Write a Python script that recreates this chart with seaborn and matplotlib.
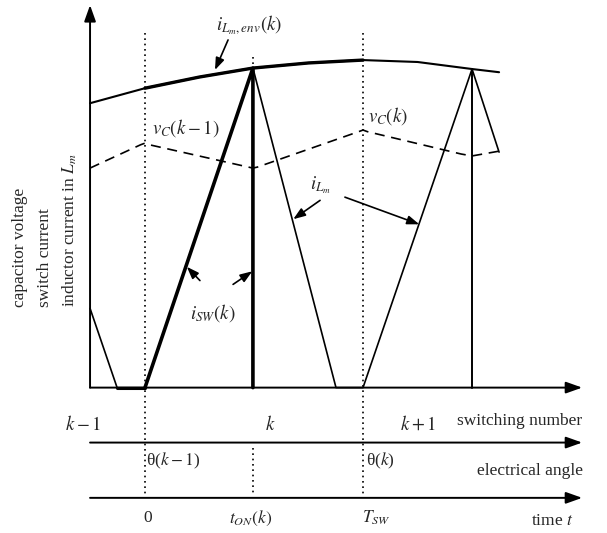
import matplotlib
matplotlib.use("Agg")
import matplotlib.pyplot as plt
import seaborn as sns
import numpy as np

# ---- data (time in units of T_SW, current normalised to peak) ----
t_ilm = [-0.252, -0.128, 0.0, 0.495, 0.876, 1.0, 1.5, 1.624]
i_lm = [0.248, 0.0, 0.0, 1.0, 0.0, 0.0, 0.997, 0.737]

t_isw = [0.0, 0.495, 0.495]
i_sw = [0.0, 1.0, 0.0]

t_isw_next = [1.5, 1.5]
i_sw_next = [0.997, 0.0]

t_env = [-0.252, 0.0, 0.25, 0.495, 0.75, 1.0, 1.25, 1.5, 1.624]
i_env = [0.890, 0.937, 0.972, 1.0, 1.016, 1.025, 1.019, 0.997, 0.987]

t_vc = [-0.252, -0.02, 0.0, 0.02, 0.475, 0.495, 0.515, 0.98, 1.0, 1.02, 1.45, 1.5, 1.55, 1.624]
v_c = [0.687, 0.760, 0.765, 0.760, 0.690, 0.687, 0.690, 0.801, 0.806, 0.801, 0.731, 0.725, 0.731, 0.740]

switch_labels = ["$k-1$", "$k$", "$k+1$"]
switch_pos = [-0.284, 0.573, 1.252]
angle_labels = ["θ($k-1$)", "θ($k$)"]
angle_pos = [0.128, 1.078]
time_labels = ["0", "$t_{ON}(k)$", "$T_{SW}$"]
time_pos = [0.014, 0.482, 1.060]
axis_names = ["switching number", "electrical angle", "time $t$"]
ylabel_lines = ["capacitor voltage", "switch current", "inductor current in $L_m$"]

# ---- style ----
sns.set_theme(style="white")
plt.rcParams['font.family'] = ['Liberation Serif', 'DejaVu Serif']
plt.rcParams['mathtext.fontset'] = 'stix'

fig = plt.figure(figsize=(6.07, 5.33), dpi=100)
ax = fig.add_axes([0, 0, 1, 1])
ax.set_xlim(-0.665, 2.119)
ax.set_ylim(-0.455, 1.213)
ax.axis('off')

K = 'black'
FS = 12.5

# traces
sns.lineplot(x=t_ilm, y=i_lm, ax=ax, sort=False, estimator=None, color=K, lw=1.2)
sns.lineplot(x=t_isw, y=i_sw, ax=ax, sort=False, estimator=None, color=K, lw=2.6)
sns.lineplot(x=t_isw_next, y=i_sw_next, ax=ax, sort=False, estimator=None, color=K, lw=1.4)
sns.lineplot(x=t_env, y=i_env, ax=ax, sort=False, estimator=None, color=K, lw=1.5)
sns.lineplot(x=t_env[1:6], y=i_env[1:6], ax=ax, sort=False, estimator=None, color=K, lw=2.4)
sns.lineplot(x=t_vc, y=v_c, ax=ax, sort=False, estimator=None, color=K, lw=1.2,
             linestyle=(0, (6, 4)))
# flat part of baseline slightly heavier
ax.plot([-0.128, 0.0], [0, 0], color=K, lw=2.2)

# axes arrows
x0, x1 = -0.252, 2.005
arr = dict(arrowstyle='-|>,head_length=0.7,head_width=0.25', color=K, lw=1.4,
           shrinkA=0, shrinkB=0, mutation_scale=14)
ax.annotate('', xy=(x0, 1.197), xytext=(x0, 0.0), arrowprops=arr)
for yb in [0.0, -0.172, -0.345]:
    ax.annotate('', xy=(x1, yb), xytext=(x0, yb), arrowprops=arr)

# dotted guides
dot = dict(color=K, lw=1.2, linestyle=(0, (1, 2.2)))
ax.plot([0, 0], [1.11, -0.332], **dot)
ax.plot([1.0, 1.0], [1.11, -0.332], **dot)
ax.plot([0.495, 0.495], [1.034, 1.0], **dot)
ax.plot([0.495, 0.495], [-0.188, -0.33], **dot)

# labels
ax.text(0.477, 1.135, "$i_{L_m,env}(k)$", fontsize=FS + 1, ha='center', va='center')
ax.text(0.188, 0.812, "$v_C(k-1)$", fontsize=FS + 1, ha='center', va='center')
ax.text(1.115, 0.850, "$v_C(k)$", fontsize=FS + 1, ha='center', va='center')
ax.text(0.807, 0.633, "$i_{L_m}$", fontsize=FS + 1, ha='center', va='center')
ax.text(0.312, 0.232, "$i_{SW}(k)$", fontsize=FS + 1, ha='center', va='center')

pa = dict(arrowstyle='-|>,head_length=0.6,head_width=0.22', color=K, lw=1.2,
          shrinkA=0, shrinkB=0, mutation_scale=12)
ax.annotate('', xy=(0.321, 0.994), xytext=(0.381, 1.088), arrowprops=pa)
ax.annotate('', xy=(0.680, 0.527), xytext=(0.803, 0.586), arrowprops=pa)
ax.annotate('', xy=(1.258, 0.511), xytext=(0.917, 0.596), arrowprops=pa)
ax.annotate('', xy=(0.192, 0.378), xytext=(0.252, 0.335), arrowprops=pa)
ax.annotate('', xy=(0.492, 0.364), xytext=(0.404, 0.323), arrowprops=pa)

for lab, p in zip(switch_labels, switch_pos):
    ax.text(p, -0.116, lab, fontsize=FS + 1, ha='center', va='center')
for lab, p in zip(angle_labels, angle_pos):
    ax.text(p, -0.229, lab, fontsize=FS, ha='center', va='center')
for lab, p in zip(time_labels, time_pos):
    ax.text(p, -0.408, lab, fontsize=FS, ha='center', va='center')

ax.text(1.720, -0.103, axis_names[0], fontsize=FS, ha='center', va='center')
ax.text(1.766, -0.260, axis_names[1], fontsize=FS, ha='center', va='center')
ax.text(1.867, -0.417, axis_names[2], fontsize=FS, ha='center', va='center')

for lab, xp in zip(ylabel_lines, [-0.573, -0.459, -0.344]):
    ax.text(xp, 0.251, lab, fontsize=FS, rotation=90, ha='center', va='bottom')

fig.savefig("out.png", dpi=100, facecolor='white')
